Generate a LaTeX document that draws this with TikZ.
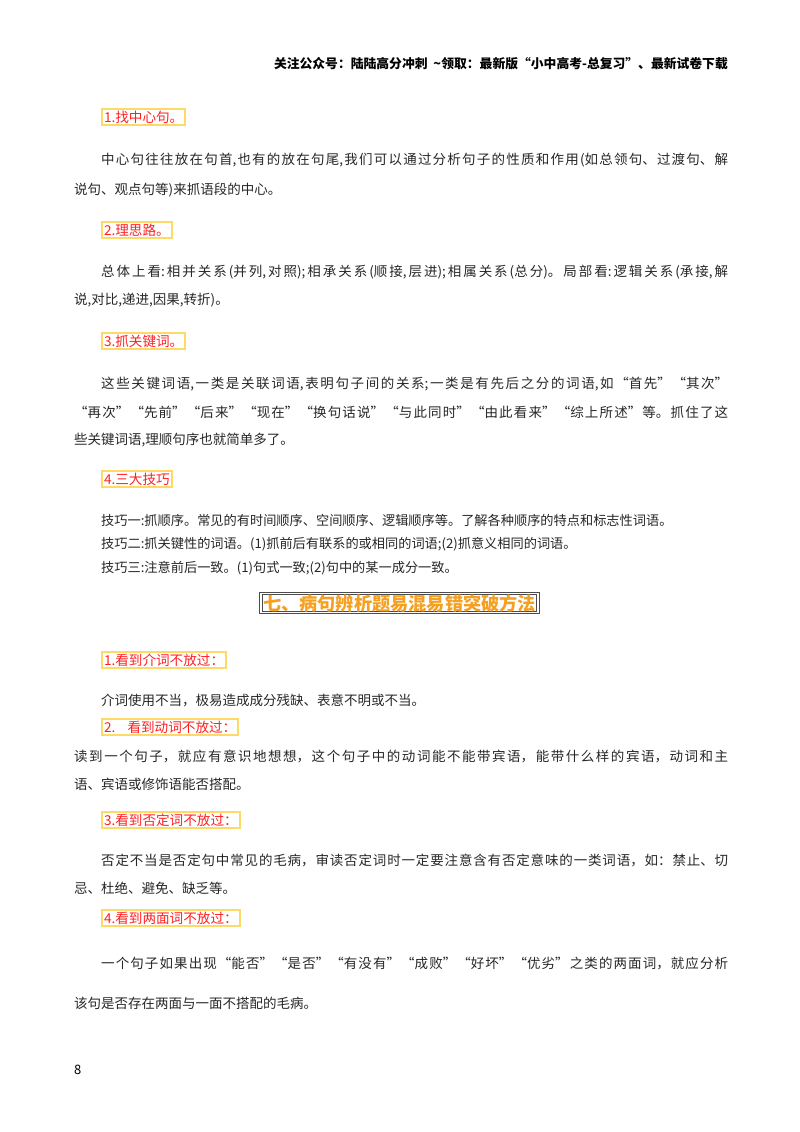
\documentclass[tikz,border=0pt]{standalone}
\usepackage{fontspec}
\setmainfont{Noto Sans CJK SC}
\XeTeXlinebreaklocale "zh"
\XeTeXlinebreakskip=0pt plus 4pt
\definecolor{gold}{HTML}{FFD966}
\definecolor{redt}{HTML}{FF2020}
\definecolor{orng}{HTML}{F5A020}
\newcommand{\jl}[2]{\parbox{#1pt}{\parfillskip=0pt\emergencystretch=20pt\noindent #2\par}}
\begin{document}
\begin{tikzpicture}[x=1pt,y=-1pt,
  hbox/.style={draw=gold,line width=2pt,text=redt,font=\fontsize{13.6}{15}\selectfont,inner xsep=2pt,inner ysep=2pt,anchor=west},
  body/.style={anchor=west,inner sep=0pt,font=\fontsize{13.5}{15}\selectfont,text=black!85},
  sm/.style={anchor=west,inner sep=0pt,font=\fontsize{13.2}{15}\selectfont,text=black!85}]
\useasboundingbox (0,0) rectangle (800,1132);
\node[anchor=east,inner sep=0pt,font=\fontsize{12.8}{14}\selectfont\bfseries] (hd) at (728,64) {关注公众号：陆陆高分冲刺\ \ \textasciitilde 领取：最新版“小中高考-总复习”、最新试卷下载};
\node[hbox] (b1) at (101,117) {1.找中心句。};
\node[body] (p1a) at (101,160) {\jl{627}{中心句往往放在句首,也有的放在句尾,我们可以通过分析句子的性质和作用(如总领句、过渡句、解}};
\node[body] (p1b) at (74,190) {说句、观点句等)来抓语段的中心。};
\node[hbox] (b2) at (101,230) {2.理思路。};
\node[body] (p2a) at (101,272) {\jl{627}{总体上看:相并关系(并列,对照);相承关系(顺接,层进);相属关系(总分)。局部看:逻辑关系(承接,解}};
\node[body] (p2b) at (74,300) {说,对比,递进,因果,转折)。};
\node[hbox] (b3) at (101,341) {3.抓关键词。};
\node[body] (p3a) at (101,384) {\jl{627}{这些关键词语,一类是关联词语,表明句子间的关系;一类是有先后之分的词语,如“首先”“其次”}};
\node[body] (p3b) at (74,412) {\jl{654}{“再次”“先前”“后来”“现在”“换句话说”“与此同时”“由此看来”“综上所述”等。抓住了这}};
\node[body] (p3c) at (74,440) {些关键词语,理顺句序也就简单多了。};
\node[hbox] (b4) at (101,479) {4.三大技巧};
\node[sm] (t1) at (101,520) {技巧一:抓顺序。常见的有时间顺序、空间顺序、逻辑顺序等。了解各种顺序的特点和标志性词语。};
\node[sm] (t2) at (101,544) {技巧二:抓关键性的词语。(1)抓前后有联系的或相同的词语;(2)抓意义相同的词语。};
\node[sm] (t3) at (101,568) {技巧三:注意前后一致。(1)句式一致;(2)句中的某一成分一致。};
\node[draw=black!70,double=white,double distance=1.2pt,line width=1pt,text=orng,font=\fontsize{18.2}{21}\selectfont\bfseries,inner xsep=2pt,inner ysep=1pt] (tt) at (399.5,603) {七、病句辨析题易混易错突破方法};
\node[hbox] (c1) at (101,660) {1.看到介词不放过：};
\node[body] (q1) at (101,700) {介词使用不当，极易造成成分残缺、表意不明或不当。};
\node[hbox] (c2) at (101,727) {2.\ \ \ \ 看到动词不放过：};
\node[body] (q2a) at (74,756) {\jl{654}{读到一个句子，就应有意识地想想，这个句子中的动词能不能带宾语，能带什么样的宾语，动词和主}};
\node[body] (q2b) at (74,784) {语、宾语或修饰语能否搭配。};
\node[hbox] (c3) at (101,820) {3.看到否定词不放过：};
\node[body] (q3a) at (101,860) {\jl{627}{否定不当是否定句中常见的毛病，审读否定词时一定要注意含有否定意味的一类词语，如：禁止、切}};
\node[body] (q3b) at (74,888) {忌、杜绝、避免、缺乏等。};
\node[hbox] (c4) at (101,918) {4.看到两面词不放过：};
\node[body] (q4a) at (101,963) {\jl{627}{一个句子如果出现“能否”“是否”“有没有”“成败”“好坏”“优劣”之类的两面词，就应分析}};
\node[body] (q4b) at (74,1003) {该句是否存在两面与一面不搭配的毛病。};
\node[anchor=west,inner sep=0pt,font=\fontsize{13}{14}\selectfont] (pg) at (74,1070) {8};
\end{tikzpicture}
\end{document}
